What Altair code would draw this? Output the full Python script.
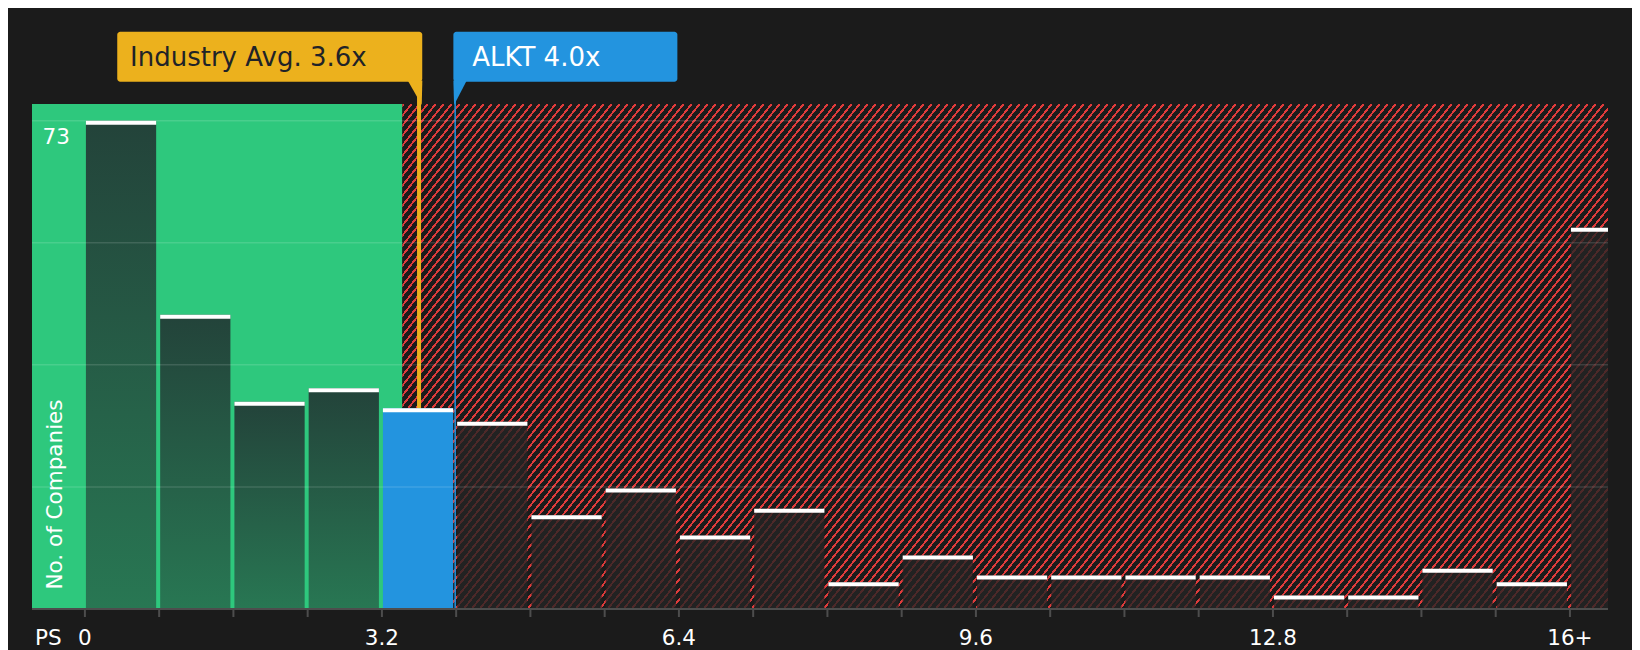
import altair as alt
import pandas as pd

# ---------------- data ----------------
bin_starts = [0, 0.8, 1.6, 2.4, 3.2, 4.0, 4.8, 5.6, 6.4, 7.2, 8.0, 8.8, 9.6,
              10.4, 11.2, 12.0, 12.8, 13.6, 14.4, 15.2, 16.0]
counts = [73, 44, 31, 33, 30, 28, 14, 18, 11, 15, 4, 8, 5, 5, 5, 5, 2, 2, 6, 4, 57]
bin_width = 0.8
label_values = [0, 3.2, 6.4, 9.6, 12.8, 16.0]
label_texts = ["0", "3.2", "6.4", "9.6", "12.8", "16+"]
industry_avg = 3.6
company_value = 4.0
company_name = "ALKT"
fair_zone_end = 3.42
x_domain = [-0.57, 16.41]
y_domain = [0, 75.5]
grid_values = [18.25, 36.5, 54.75, 73]
x_title = "PS"
y_title = "No. of Companies"

# ---------------- style ----------------
PLOT_W, PLOT_H = 1576, 505
BG = "#1b1b1b"
GREEN = "#2ec87d"
ORANGE = "#ecb11d"
BLUE = "#2394df"
RED = "#de3b3b"
AXIS_GRAY = "#4d4d4d"
TEXT = "#ffffff"
FONT = "DejaVu Sans"

# ---------------- tables ----------------
ends = [s + bin_width for s in bin_starts]
zones = []
for s, e in zip(bin_starts, ends):
    if s < company_value <= e + 1e-9:
        zones.append("company")
    elif e <= fair_zone_end:
        zones.append("good")
    else:
        zones.append("over")
bars = pd.DataFrame({"start": bin_starts, "end": ends, "count": counts,
                     "zone": zones, "zero": [0] * len(counts)})
ticks_df = pd.DataFrame({"t": bin_starts, "zero": [0] * len(bin_starts)})
labels_df = pd.DataFrame({"v": label_values, "label": label_texts, "zero": [0] * len(label_values)})

xs = alt.Scale(domain=x_domain, nice=False, zero=False)
ys = alt.Scale(domain=y_domain, nice=False, zero=False)

# hatch as a striped linear gradient
hatch_w = (x_domain[1] - fair_zone_end) / (x_domain[1] - x_domain[0]) * PLOT_W
hatch_h = PLOT_H
slope = 1.25
period = 8.0
red_frac = 0.3
ratio = slope * hatch_w / hatch_h
b = 1.0 / ratio
c = (1 + b) / (1 + b * b)
dt = period / (hatch_w * c * (1 + b * b))
stops = []
t = 0.0
while t < 1.0:
    t1 = min(t + red_frac * dt, 1.0)
    t2 = min(t + dt, 1.0)
    stops += [{"offset": round(t, 6), "color": RED}, {"offset": round(t1, 6), "color": RED},
              {"offset": round(t1, 6), "color": BG}, {"offset": round(t2, 6), "color": BG}]
    t += dt
hatch_fill = {"gradient": "linear", "x1": 0, "y1": 0, "x2": c, "y2": c * b, "stops": stops}

green_bar_fill = {"gradient": "linear", "x1": 0, "y1": 0, "x2": 0, "y2": 1,
                  "stops": [{"offset": 0, "color": "#23433a"}, {"offset": 1, "color": "#287753"}]}

zones_df = pd.DataFrame({"x0": [x_domain[0], fair_zone_end], "x1": [fair_zone_end, x_domain[1]],
                         "y0": [y_domain[0]] * 2, "y1": [y_domain[1]] * 2, "zone": ["good", "over"]})


def X(field):
    return alt.X(field, scale=xs, axis=None)


def Y(field):
    return alt.Y(field, scale=ys, axis=None)


green_bg = alt.Chart(zones_df).transform_filter("datum.zone == 'good'").mark_rect(fill=GREEN).encode(
    x=X("x0:Q"), x2="x1:Q", y=Y("y0:Q"), y2="y1:Q")
hatch_bg = alt.Chart(zones_df).transform_filter("datum.zone == 'over'").mark_rect(fill=hatch_fill).encode(
    x=X("x0:Q"), x2="x1:Q", y=Y("y0:Q"), y2="y1:Q")

ann = pd.DataFrame({"v": [industry_avg, company_value],
                    "label": [f"Industry Avg. {industry_avg:.1f}x", f"{company_name} {company_value:.1f}x"],
                    "kind": ["avg", "company"], "zero": [0, 0]})
avg_df = ann[ann.kind == "avg"]
comp_df = ann[ann.kind == "company"]

avg_line = alt.Chart(avg_df).mark_rule(color=ORANGE, strokeWidth=4).encode(
    x=X("v:Q"), y=Y("zero:Q"), y2=alt.value(-50))
comp_line = alt.Chart(comp_df).mark_rule(color=BLUE, strokeWidth=1.5, xOffset=-1).encode(
    x=X("v:Q"), y=Y("zero:Q"), y2=alt.value(-30))


def bar_layer(zone, **mark):
    return alt.Chart(bars).transform_filter(f"datum.zone == '{zone}'").mark_rect(
        xOffset=1, x2Offset=-3, clip=True, **mark).encode(
        x=X("start:Q"), x2="end:Q", y=Y("count:Q"), y2="zero:Q")


good_bars = bar_layer("good", fill=green_bar_fill)
comp_bars = bar_layer("company", fill=BLUE)
over_bars = bar_layer("over", fill="#242424", fillOpacity=0.78)

tops = alt.Chart(bars).mark_rule(color="#ffffff", strokeWidth=4, xOffset=1, x2Offset=-3,
                                 yOffset=2, clip=True).encode(
    x=X("start:Q"), x2="end:Q", y=Y("count:Q"))

grid_df = pd.DataFrame({"g": grid_values})
grid = alt.Chart(grid_df).mark_rule(color="#ffffff", opacity=0.13, strokeWidth=1.5).encode(y=Y("g:Q"))

# x axis: domain line, ticks, labels, title (positioned through the scales)
base_df = pd.DataFrame({"x0": [x_domain[0]], "x1": [x_domain[1]], "y": [y_domain[0]]})
baseline = alt.Chart(base_df).mark_rule(color=AXIS_GRAY, strokeWidth=2).encode(
    x=X("x0:Q"), x2="x1:Q", y=Y("y:Q"))
ticks = alt.Chart(ticks_df).mark_rule(color=AXIS_GRAY, strokeWidth=2, y2Offset=8).encode(
    x=X("t:Q"), y=Y("zero:Q"), y2="zero:Q")
tick_labels = alt.Chart(labels_df).mark_text(align="center", baseline="alphabetic", dy=36,
                                             fontSize=21.5, font=FONT, color=TEXT).encode(
    x=X("v:Q"), y=Y("zero:Q"), text="label:N")
x_title_df = pd.DataFrame({"x": [x_domain[0]], "y": [y_domain[0]], "t": [x_title]})
x_title_mark = alt.Chart(x_title_df).mark_text(align="center", baseline="alphabetic", xOffset=16.3,
                                               dy=36, fontSize=21.5, font=FONT, color=TEXT).encode(
    x=X("x:Q"), y=Y("y:Q"), text="t:N")

max_df = pd.DataFrame({"x": [x_domain[0]], "v": [max(counts)]})
max_label = alt.Chart(max_df).mark_text(align="left", baseline="alphabetic", dx=10.6, dy=23.7,
                                        fontSize=21.5, font=FONT, color=TEXT).encode(
    x=X("x:Q"), y=Y("v:Q"), text="v:Q")

y_title_df = pd.DataFrame({"x": [x_domain[0]], "y": [y_domain[0]], "t": [y_title]})
y_title_mark = alt.Chart(y_title_df).mark_text(angle=270, align="center", baseline="alphabetic",
                                               xOffset=30.3, yOffset=-114.5, fontSize=21.5,
                                               font=FONT, color=TEXT).encode(
    x=X("x:Q"), y=Y("y:Q"), text="t:N")

avg_box = alt.Chart(avg_df).mark_rect(fill=ORANGE, cornerRadius=3, xOffset=-301.8, x2Offset=3.2).encode(
    x=X("v:Q"), x2="v:Q", y=alt.value(-72.3), y2=alt.value(-22.3))
avg_ptr = alt.Chart(avg_df).mark_point(shape="M -0.942 -0.1 L 0.275 -0.1 L 0.225 1.942 Z", size=576,
                                       filled=True, opacity=1, color=ORANGE, strokeWidth=0).encode(
    x=X("v:Q"), y=alt.value(-22.3))
avg_text = alt.Chart(avg_df).mark_text(align="left", baseline="alphabetic", dx=-289, fontSize=26,
                                       font=FONT, color="#1f2328").encode(
    x=X("v:Q"), y=alt.value(-38.3), text="label:N")

comp_box = alt.Chart(comp_df).mark_rect(fill=BLUE, cornerRadius=3, xOffset=-2.8, x2Offset=221.2).encode(
    x=X("v:Q"), x2="v:Q", y=alt.value(-72.3), y2=alt.value(-22.3))
comp_ptr = alt.Chart(comp_df).mark_point(shape="M -0.233 -0.1 L 0.883 -0.1 L -0.175 1.942 Z", size=576,
                                         filled=True, opacity=1, color=BLUE, strokeWidth=0).encode(
    x=X("v:Q"), y=alt.value(-22.3))
comp_text = alt.Chart(comp_df).mark_text(align="left", baseline="alphabetic", dx=16.0, fontSize=26,
                                         font=FONT, color="#ffffff").encode(
    x=X("v:Q"), y=alt.value(-38.3), text="label:N")

chart = alt.layer(
    green_bg, hatch_bg, avg_line, comp_line, good_bars, comp_bars, over_bars, tops,
    grid, baseline, ticks, tick_labels, x_title_mark, max_label, y_title_mark,
    avg_box, avg_ptr, avg_text, comp_box, comp_ptr, comp_text
).properties(
    width=PLOT_W, height=PLOT_H,
    autosize=alt.AutoSizeParams(type="none"),
    padding={"left": 24, "top": 96, "right": 24, "bottom": 41},
).configure(background=BG, font=FONT).configure_view(stroke=None)

chart.save("out.html", embed_options={"renderer": "svg", "actions": False})
